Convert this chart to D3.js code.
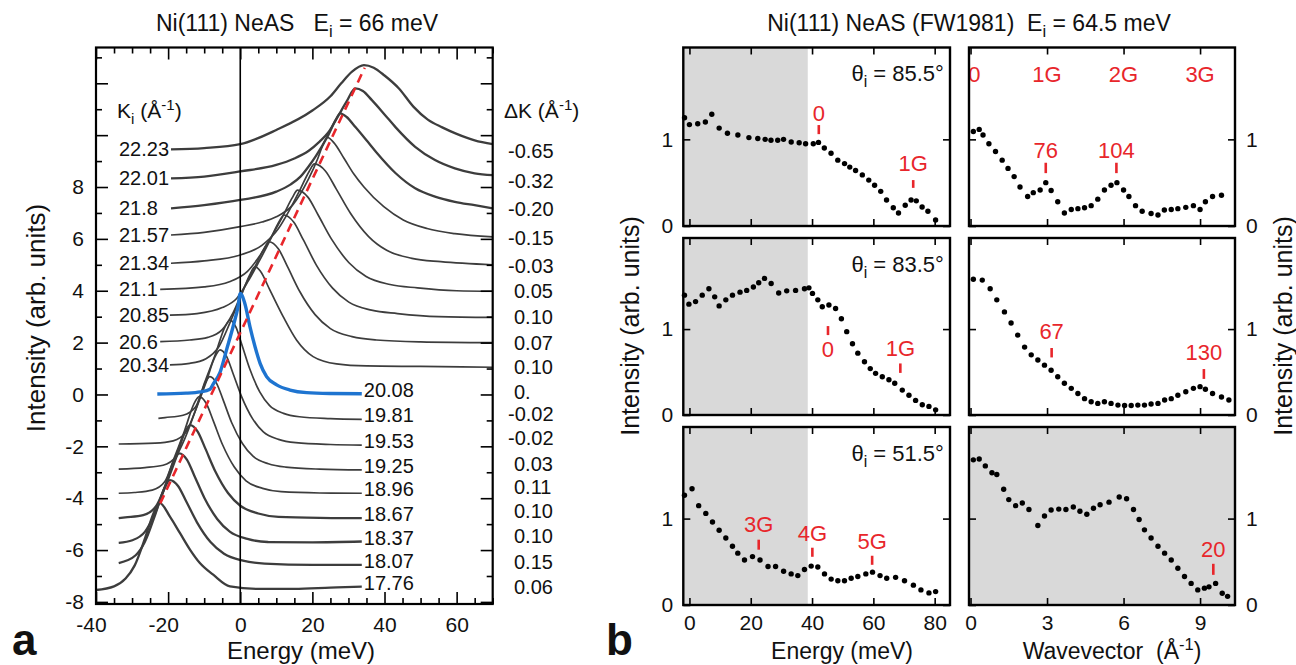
<!DOCTYPE html>
<html><head><meta charset="utf-8">
<script src="https://d3js.org/d3.v7.min.js"></script>
<style>
html,body{margin:0;padding:0;background:#fff;}
svg{display:block;}
text{font-family:"Liberation Sans",Arial,Helvetica,sans-serif;fill:#111;}
</style></head><body>
<svg id="chart" width="1296" height="665"></svg>
<script>
// ================= DATA : panel a =================
const kiLabels=["22.23","22.01","21.8","21.57","21.34","21.1","20.85","20.6","20.34","20.08","19.81","19.53","19.25","18.96","18.67","18.37","18.07","17.76"];
const deltaK=["-0.65","-0.32","-0.20","-0.15","-0.03","0.05","0.10","0.07","0.10","0.","-0.02","-0.02","0.03","0.11","0.10","0.10","0.15","0.06"];
// intensity level (same units as the curves) at which each ΔK value is printed
const deltaKLevel=[9.39,8.25,7.15,6.05,4.97,3.99,2.99,1.99,1.07,0.08,-0.74,-1.69,-2.68,-3.57,-4.5,-5.45,-6.45,-7.41];
// spectra [energy meV, intensity], one per Ki
const spectra=[
[[-19.2,9.45],[-10,9.5],[0,9.65],[10,10.2],[20,10.95],[25,11.5],[28,12.0],[31,12.45],[34.3,12.7],[37,12.6],[40,12.3],[44,11.8],[48,11.1],[52,10.6],[56,10.3],[60,10.05],[65,9.8],[70,9.65]],
[[-19.2,8.33],[-10,8.4],[0,8.6],[10,8.85],[15,9.1],[19,9.4],[22,9.75],[24.4,10.1],[27,10.7],[29.5,11.3],[31.9,11.8],[34,11.7],[36.5,11.35],[40,10.8],[43.1,10.3],[48.5,9.55],[54,9.04],[59.5,8.72],[65,8.53],[70,8.46]],
[[-19.2,7.18],[-10,7.3],[0,7.5],[10,7.82],[14,8.1],[16.7,8.4],[19,8.8],[21,9.2],[24.4,10.0],[26.5,10.6],[27.7,10.84],[29.5,10.7],[32,10.3],[35,9.8],[37.6,9.36],[43.1,8.53],[48.5,7.95],[54,7.63],[59.5,7.43],[65,7.3],[70,7.18]],
[[-19.2,6.15],[-10,6.25],[0,6.47],[6,6.65],[10,6.85],[14.5,7.3],[18.9,8.3],[21.5,9.1],[22.7,9.55],[24.2,9.91],[26,9.7],[28.8,9.1],[31.5,8.5],[34.3,8.0],[39.8,7.24],[45.2,6.73],[51.8,6.4],[59.5,6.2],[70,6.08]],
[[-19.2,5.06],[-10,5.15],[0,5.38],[6,5.75],[10.6,6.4],[13.6,7.1],[16.6,7.9],[19.1,8.6],[20.6,8.89],[23.6,8.62],[26.6,7.93],[30.6,6.98],[35.6,6.09],[40.6,5.56],[47.6,5.25],[55.6,5.12],[70,5.0]],
[[-22.2,4.05],[-10,4.15],[-3,4.35],[2,4.75],[5.9,5.45],[8.9,6.15],[11.9,6.9],[14.4,7.58],[15.9,7.88],[18.75,7.61],[21.6,6.92],[25.4,5.97],[30.15,5.08],[34.9,4.55],[41.55,4.24],[49.15,4.11],[60,4.0],[70,3.98]],
[[-19.5,3.06],[-12,3.12],[-5,3.35],[-1,3.7],[2.1,4.35],[5.1,5.1],[8.1,5.9],[10.6,6.62],[12.1,6.92],[14.8,6.65],[17.5,5.96],[21.1,4.99],[25.6,4.1],[30.1,3.56],[36.4,3.25],[43.6,3.12],[55,3.0],[70,2.97]],
[[-22.2,2.04],[-14,2.1],[-9,2.2],[-5,2.5],[-2,3.15],[1,4.1],[4,4.9],[6.5,5.6],[8.0,5.89],[10.55,5.62],[13.1,4.93],[16.5,3.97],[20.75,3.08],[25,2.54],[31,2.23],[37.75,2.1],[50,2.03],[70,2.0]],
[[-19.5,1.14],[-14,1.2],[-9.5,1.38],[-5.9,1.85],[-2.9,2.75],[0.1,3.75],[2.6,4.6],[4.1,4.93],[5.6,4.75],[8.2,4.03],[11.9,3.0],[15.6,2.1],[20.2,1.46],[26.7,1.18],[35,1.1],[50,1.08],[70,1.05]],
[[-23,0.02],[-15,0.05],[-11,0.1],[-8.4,0.2],[-7.5,0.4],[-5.6,0.85],[-3.8,1.72],[-2,2.61],[-0.6,3.4],[0,3.9],[1.25,3.52],[2.7,2.61],[4.1,1.84],[5.5,1.2],[7.3,0.69],[10.1,0.37],[13.8,0.17],[18.4,0.07],[24.8,0.04],[33.7,0.03]],
[[-22.7,-0.92],[-20.85,-0.89],[-15.85,-0.8],[-12.35,-0.47],[-9.85,0.47],[-6.85,1.57],[-4.35,2.57],[-2.85,2.87],[-1.2,2.6],[0.45,1.92],[2.65,0.98],[5.4,0.1],[8.15,-0.43],[12,-0.73],[16.4,-0.86],[25,-0.93],[33.7,-0.96]],
[[-33.7,-1.91],[-23.6,-1.88],[-18.6,-1.79],[-15.1,-1.46],[-12.6,-0.68],[-9.6,0.42],[-7.1,1.42],[-5.6,1.72],[-3.8,1.47],[-2.0,0.81],[0.4,-0.09],[3.4,-0.93],[6.4,-1.44],[10.6,-1.73],[15.4,-1.86],[25,-1.93],[33.7,-1.95]],
[[-33.7,-2.88],[-26.4,-2.82],[-21.4,-2.73],[-17.9,-2.4],[-15.4,-1.71],[-12.4,-0.61],[-9.9,0.39],[-8.4,0.69],[-6.6,0.44],[-4.8,-0.19],[-2.4,-1.08],[0.6,-1.89],[3.6,-2.39],[7.8,-2.67],[12.6,-2.8],[22,-2.88],[33.7,-2.91]],
[[-33.7,-3.81],[-29.4,-3.78],[-24.4,-3.69],[-20.9,-3.36],[-18.4,-2.48],[-15.4,-1.38],[-12.9,-0.38],[-11.4,-0.08],[-9.45,-0.34],[-7.5,-1.01],[-4.9,-1.94],[-1.65,-2.8],[1.6,-3.33],[6.2,-3.62],[11.35,-3.75],[22,-3.8],[33.7,-3.81]],
[[-33.7,-4.77],[-31.9,-4.74],[-26.9,-4.65],[-23.4,-4.32],[-20.9,-3.58],[-17.9,-2.48],[-15.4,-1.48],[-13.9,-1.18],[-11.8,-1.43],[-9.7,-2.08],[-6.9,-2.97],[-3.4,-3.8],[0.1,-4.3],[5.0,-4.59],[10.6,-4.72],[22,-4.76],[33.7,-4.77]],
[[-33.7,-5.72],[-29.9,-5.62],[-26.4,-5.29],[-23.9,-4.67],[-20.9,-3.57],[-18.4,-2.57],[-16.9,-2.27],[-14.8,-2.51],[-12.7,-3.14],[-9.9,-4.0],[-6.4,-4.8],[-2.9,-5.29],[2.0,-5.57],[7.6,-5.69],[20,-5.7],[33.7,-5.67]],
[[-33.7,-6.5],[-29,-6.2],[-26.5,-5.7],[-23.5,-4.6],[-21,-3.6],[-19.5,-3.3],[-17.25,-3.53],[-15,-4.12],[-12,-4.93],[-8.25,-5.69],[-4.5,-6.14],[0.75,-6.41],[6.75,-6.52],[20,-6.57],[33.7,-6.57]],
[[-40,-7.54],[-35,-7.4],[-31.8,-7.1],[-29.3,-6.6],[-26.3,-5.5],[-23.8,-4.5],[-22.3,-4.19],[-19.5,-4.71],[-16.7,-5.35],[-13.9,-5.99],[-11.2,-6.5],[-7.5,-6.95],[-2.85,-7.4],[5,-7.5],[15,-7.5],[25,-7.45],[33.7,-7.41]]
];
const dispersionLine=[[-22.2,-4.2],[34.5,12.6]];
const energyTicksA=[-40,-20,0,20,40,60];
const intensityTicksA=[-8,-6,-4,-2,0,2,4,6,8];

// ================= DATA : panel b =================
const dotsE855=[[-1.6,1.25],[0,1.17],[2.7,1.18],[5.2,1.2],[7.3,1.29],[9.7,1.13],[12.4,1.07],[15.8,1.05],[19.4,1.02],[22.3,1.01],[24.7,1.0],[26.6,0.99],[28.8,0.99],[30.7,1.0],[33.2,0.97],[35.8,0.96],[37.9,0.95],[40.4,0.95],[42.1,0.965],[44.0,0.9],[46.2,0.84],[48.4,0.76],[50.6,0.72],[52.3,0.68],[54.2,0.64],[56.4,0.59],[58.5,0.53],[60.4,0.47],[62.4,0.4],[64.3,0.3],[66.5,0.21],[68.2,0.15],[70.4,0.24],[72.3,0.3],[74.0,0.29],[75.9,0.22],[77.8,0.17],[80.3,0.07]];
const dotsK855=[[0.11,1.09],[0.34,1.115],[0.49,1.05],[0.72,0.95],[0.98,0.86],[1.24,0.76],[1.47,0.665],[1.71,0.57],[1.94,0.45],[2.24,0.34],[2.46,0.385],[2.73,0.415],[2.95,0.5],[3.16,0.41],[3.42,0.28],[3.68,0.15],[3.95,0.19],[4.21,0.2],[4.47,0.21],[4.73,0.235],[4.99,0.31],[5.25,0.415],[5.51,0.47],[5.74,0.5],[6.0,0.415],[6.21,0.34],[6.47,0.235],[6.73,0.17],[7.08,0.145],[7.35,0.127],[7.6,0.185],[7.87,0.19],[8.13,0.2],[8.44,0.215],[8.74,0.235],[9.0,0.19],[9.21,0.28],[9.49,0.34],[9.84,0.355]];
const dotsE835=[[-1.62,1.395],[-0.17,1.29],[2.0,1.32],[4.18,1.395],[6.35,1.47],[8.24,1.375],[9.69,1.27],[11.87,1.34],[14.04,1.395],[16.5,1.43],[18.68,1.45],[20.86,1.49],[22.6,1.54],[24.48,1.59],[26.66,1.53],[29.12,1.42],[31.73,1.445],[34.63,1.45],[37.53,1.47],[38.98,1.48],[40.14,1.415],[41.88,1.34],[43.33,1.26],[45.5,1.28],[47.68,1.24],[49.57,1.12],[51.31,0.97],[53.19,0.83],[54.93,0.72],[57.1,0.62],[58.99,0.54],[60.73,0.485],[62.91,0.445],[65.08,0.41],[66.97,0.37],[69.43,0.29],[71.61,0.23],[73.78,0.17],[75.96,0.12],[78.13,0.1],[80.31,0.06]];
const dotsK835=[[0.11,1.58],[0.46,1.57],[0.77,1.47],[1.03,1.34],[1.33,1.2],[1.59,1.07],[1.85,0.93],[2.12,0.79],[2.38,0.7],[2.64,0.64],[2.9,0.58],[3.16,0.52],[3.42,0.445],[3.68,0.37],[3.95,0.31],[4.21,0.25],[4.47,0.19],[4.73,0.155],[4.99,0.135],[5.25,0.155],[5.51,0.135],[5.78,0.115],[6.04,0.11],[6.3,0.11],[6.56,0.115],[6.82,0.115],[7.08,0.128],[7.35,0.135],[7.61,0.175],[7.87,0.19],[8.13,0.23],[8.44,0.27],[8.74,0.31],[9.0,0.33],[9.21,0.3],[9.49,0.25],[9.84,0.21],[10.13,0.175]];
const dotsE515=[[-1.62,1.27],[0.85,1.345],[3.02,1.15],[5.34,1.06],[7.52,0.96],[9.69,0.865],[11.87,0.775],[14.04,0.68],[15.78,0.6],[17.96,0.52],[20.57,0.56],[23.03,0.52],[25.64,0.445],[28.1,0.445],[30.72,0.39],[33.18,0.36],[35.36,0.34],[37.53,0.41],[39.71,0.45],[41.88,0.44],[44.06,0.36],[46.23,0.3],[48.41,0.28],[50.58,0.28],[52.76,0.31],[54.93,0.33],[57.54,0.36],[59.72,0.38],[62.18,0.34],[64.36,0.31],[67.26,0.32],[70.16,0.28],[73.06,0.23],[75.52,0.175],[78.13,0.14],[80.31,0.155]];
const dotsK515=[[0.11,1.68],[0.34,1.69],[0.58,1.61],[0.84,1.53],[1.03,1.51],[1.3,1.34],[1.5,1.22],[1.77,1.15],[2.03,1.18],[2.29,1.105],[2.64,0.92],[2.9,1.03],[3.16,1.1],[3.46,1.11],[3.74,1.105],[4.03,1.135],[4.29,1.085],[4.56,1.05],[4.82,1.12],[5.08,1.16],[5.43,1.19],[5.83,1.25],[6.12,1.23],[6.39,1.105],[6.61,0.99],[6.82,0.87],[7.08,0.775],[7.35,0.68],[7.61,0.6],[7.87,0.52],[8.13,0.425],[8.39,0.33],[8.65,0.25],[8.91,0.175],[9.17,0.195],[9.35,0.21],[9.61,0.25],[9.87,0.136],[10.08,0.1]];
const thetaLabels=["85.5°","83.5°","51.5°"];
const energyTicksB=[0,20,40,60,80];
const waveTicksB=[0,3,6,9];
const intensityTicksB=[0,1];
const shadeEnergyMax=38.6;
const reciprocalOrders=["0","1G","2G","3G"];
const reciprocalOrderK=[0.15,3,6,9];
// markers: label, x (energy or wavevector), label level, tick from/to (intensity)
const annE855=[["0",42.2,1.21,1.165,1.06],["1G",73,0.64,0.53,0.44]];
const annK855=[["76",2.95,0.79,0.73,0.61],["104",5.72,0.79,0.73,0.61]];
const annE835=[["0",45.2,0.68,1.035,0.93],["1G",68.8,0.69,0.6,0.49]];
const annK835=[["67",3.18,0.89,0.78,0.67],["130",9.15,0.64,0.535,0.42]];
const annE515=[["3G",22.6,0.85,0.756,0.64],["4G",40.1,0.735,0.663,0.558],["5G",59.6,0.648,0.57,0.465]];
const annK515=[["20",9.52,0.56,0.477,0.349]];

// ================= DRAWING =================
const svg=d3.select("#chart");
svg.append("rect").attr("width",1296).attr("height",665).attr("fill","#fff");
const RED="#e8262b", BLUE="#1e74d0", CURVE="#3d3d3d", FF='"Liberation Sans", Arial, sans-serif';

function rich(parent,x,y,segs,size,anchor,extra){
  const t=parent.append("text").attr("x",x).attr("y",y).attr("font-size",size)
    .attr("text-anchor",anchor||"start");
  if(extra) extra(t);
  let shift=0;
  segs.forEach(s=>{
    const target=s.sub?size*0.28:(s.sup?-size*0.38:0);
    const ts=t.append("tspan").text(s.t).attr("dy",target-shift);
    if(s.sub||s.sup) ts.attr("font-size",size*0.72);
    shift=target;
  });
  return t;
}
function styleAxis(g,size){
  g.select(".domain").remove();
  g.attr("font-family",FF).attr("font-size",size);
  g.selectAll("line").attr("stroke","#000").attr("stroke-width",1.6);
  g.selectAll("text").attr("fill","#111");
  return g;
}

// ---------- panel a ----------
const xL=d3.scaleLinear().domain([-40,70]).range([96,492.7]);
const yL=d3.scaleLinear().domain([-8.08,13.38]).range([604,47.5]);
const gA=svg.append("g");
const lineA=d3.line().x(d=>xL(d[0])).y(d=>yL(d[1])).curve(d3.curveMonotoneX);
spectra.forEach((s,i)=>{
  if(i===9) return;
  gA.append("path").attr("d",lineA(s)).attr("fill","none").attr("stroke",CURVE)
    .attr("stroke-width",(i<3||i>13)?2.3:1.7).attr("stroke-linejoin","round");
});
gA.append("line").attr("x1",xL(0)).attr("x2",xL(0)).attr("y1",yL.range()[0]).attr("y2",yL.range()[1])
  .attr("stroke","#000").attr("stroke-width",1.6);
gA.append("path").attr("d",lineA(spectra[9])).attr("fill","none").attr("stroke",BLUE).attr("stroke-width",3.4);
gA.append("line").attr("x1",xL(dispersionLine[0][0])).attr("y1",yL(dispersionLine[0][1]))
  .attr("x2",xL(dispersionLine[1][0])).attr("y2",yL(dispersionLine[1][1]))
  .attr("stroke",RED).attr("stroke-width",2.6).attr("stroke-dasharray","9,6");
// frame
gA.append("rect").attr("x",xL.range()[0]).attr("y",yL.range()[1])
  .attr("width",xL.range()[1]-xL.range()[0]).attr("height",yL.range()[0]-yL.range()[1])
  .attr("fill","none").attr("stroke","#000").attr("stroke-width",2.2);
// axes
const minorXA=d3.range(-40,71,5).filter(v=>!energyTicksA.includes(v));
const yAllA=d3.range(-8,14,1);
const minorYA=yAllA.filter(v=>v%2!==0), majorYA=yAllA.filter(v=>v%2===0);
const bA=yL.range()[0], tA=yL.range()[1], lA=xL.range()[0], rA=xL.range()[1];
styleAxis(gA.append("g").attr("transform",`translate(0,${bA})`).call(d3.axisBottom(xL).tickValues(minorXA).tickSize(-6).tickFormat("")),21);
styleAxis(gA.append("g").attr("transform",`translate(0,${bA})`).call(d3.axisBottom(xL).tickValues(energyTicksA).tickSize(-12).tickPadding(13).tickFormat(d=>String(d))),21)
  .selectAll("text").attr("dx",d=>d<0?-5:0);
styleAxis(gA.append("g").attr("transform",`translate(0,${tA})`).call(d3.axisTop(xL).tickValues(minorXA).tickSize(-6).tickFormat("")),21);
styleAxis(gA.append("g").attr("transform",`translate(0,${tA})`).call(d3.axisTop(xL).tickValues(energyTicksA).tickSize(-12).tickFormat("")),21);
styleAxis(gA.append("g").attr("transform",`translate(${lA},0)`).call(d3.axisLeft(yL).tickValues(minorYA).tickSize(-6).tickFormat("")),21);
styleAxis(gA.append("g").attr("transform",`translate(${lA},0)`).call(d3.axisLeft(yL).tickValues(majorYA).tickSize(-12).tickPadding(12)
  .tickFormat(d=>intensityTicksA.includes(d)?String(d):"")),21);
styleAxis(gA.append("g").attr("transform",`translate(${rA},0)`).call(d3.axisRight(yL).tickValues(minorYA).tickSize(-6).tickFormat("")),21);
styleAxis(gA.append("g").attr("transform",`translate(${rA},0)`).call(d3.axisRight(yL).tickValues(majorYA).tickSize(-12).tickFormat("")),21);
// Ki labels
spectra.forEach((s,i)=>{
  if(i<9){
    gA.append("text").attr("x",119).attr("y",yL(s[0][1])).attr("dy","0.35em").attr("font-size",20).text(kiLabels[i]);
  } else {
    const last=s[s.length-1];
    gA.append("text").attr("x",xL(last[0])+2).attr("y",yL(last[1])-4).attr("dy","0.35em").attr("font-size",20).text(kiLabels[i]);
  }
});
deltaK.forEach((d,i)=>{
  gA.append("text").attr("x",d.startsWith("-")?508:514).attr("y",yL(deltaKLevel[i])).attr("dy","0.35em")
    .attr("font-size",20).text(d);
});
rich(gA,117,118,[{t:"K"},{t:"i",sub:true},{t:"\u00a0(Å"},{t:"-1",sup:true},{t:")"}],21,"start");
rich(gA,504,118,[{t:"ΔK\u00a0(Å"},{t:"-1",sup:true},{t:")"}],21,"start");
rich(gA,297,31,[{t:"Ni(111) NeAS\u00a0\u00a0\u00a0E"},{t:"i",sub:true},{t:"\u00a0= 66 meV"}],23,"middle");
gA.append("text").attr("transform","translate(45,318) rotate(-90)").attr("text-anchor","middle").attr("font-size",26).text("Intensity (arb. units)");
gA.append("text").attr("x",301).attr("y",659).attr("text-anchor","middle").attr("font-size",24).text("Energy (meV)");
gA.append("text").attr("x",12).attr("y",655).attr("font-size",44).attr("font-weight","bold").text("a");

// ---------- panel b ----------
const gB=svg.append("g");
const colsB=[{range:[683.3,950],domain:[-2,85],ticks:energyTicksB},{range:[969,1235],domain:[-0.06,10.37],ticks:waveTicksB}];
const rowsB=[[47.5,226],[238,415],[427,605]];
const panelsB=[
  {r:0,c:0,dots:dotsE855,shade:[-2,shadeEnergyMax],theta:thetaLabels[0],ann:annE855},
  {r:0,c:1,dots:dotsK855,shade:null,ann:annK855,orders:true},
  {r:1,c:0,dots:dotsE835,shade:[-2,shadeEnergyMax],theta:thetaLabels[1],ann:annE835},
  {r:1,c:1,dots:dotsK835,shade:null,ann:annK835},
  {r:2,c:0,dots:dotsE515,shade:[-2,shadeEnergyMax],theta:thetaLabels[2],ann:annE515},
  {r:2,c:1,dots:dotsK515,shade:[-0.06,10.37],ann:annK515}
];
panelsB.forEach(p=>{
  const col=colsB[p.c], row=rowsB[p.r];
  const x=d3.scaleLinear().domain(col.domain).range(col.range);
  const y=d3.scaleLinear().domain([0,2.06]).range([row[1],row[0]]);
  const g=gB.append("g");
  if(p.shade){
    g.append("rect").attr("x",x(p.shade[0])).attr("y",row[0]).attr("width",x(p.shade[1])-x(p.shade[0]))
      .attr("height",row[1]-row[0]).attr("fill","#d9d9d9");
  }
  g.selectAll("circle").data(p.dots).join("circle").attr("cx",d=>x(d[0])).attr("cy",d=>y(d[1])).attr("r",2.7).attr("fill","#000");
  // annotations
  p.ann.forEach(a=>{
    g.append("text").attr("x",x(a[1])).attr("y",y(a[2])).attr("text-anchor","middle").attr("font-size",22).style("fill",RED).text(a[0]);
    g.append("line").attr("x1",x(a[1])).attr("x2",x(a[1])).attr("y1",y(a[3])).attr("y2",y(a[4])).attr("stroke",RED).attr("stroke-width",2.6);
  });
  if(p.orders){
    reciprocalOrders.forEach((o,i)=>{
      g.append("text").attr("x",x(reciprocalOrderK[i])).attr("y",y(1.66)).attr("text-anchor","middle").attr("font-size",22).style("fill",RED).text(o);
    });
  }
  if(p.theta){
    rich(g,x(83),y(1.67),[{t:"θ"},{t:"i",sub:true},{t:"\u00a0= "+p.theta}],22,"end");
  }
  // frame
  g.append("rect").attr("x",col.range[0]).attr("y",row[0]).attr("width",col.range[1]-col.range[0]).attr("height",row[1]-row[0])
    .attr("fill","none").attr("stroke","#000").attr("stroke-width",2.4);
  // x ticks
  const bx=d3.axisBottom(x).tickValues(col.ticks).tickSize(-7).tickPadding(10).tickFormat(d=>String(d));
  if(p.r!==2) bx.tickFormat("");
  styleAxis(g.append("g").attr("transform",`translate(0,${row[1]})`).call(bx),21);
  styleAxis(g.append("g").attr("transform",`translate(0,${row[0]})`).call(d3.axisTop(x).tickValues(col.ticks).tickSize(-7).tickFormat("")),21);
  // y ticks
  const yl=d3.axisLeft(y).tickValues(intensityTicksB).tickSize(-7).tickPadding(10).tickFormat(d=>String(d));
  const yr=d3.axisRight(y).tickValues(intensityTicksB).tickSize(-7).tickPadding(11).tickFormat(d=>String(d));
  if(p.c===0) yr.tickFormat(""); else yl.tickFormat("");
  styleAxis(g.append("g").attr("transform",`translate(${col.range[0]},0)`).call(yl),21);
  styleAxis(g.append("g").attr("transform",`translate(${col.range[1]},0)`).call(yr),21);
});
rich(gB,969,31,[{t:"Ni(111) NeAS (FW1981)\u00a0\u00a0E"},{t:"i",sub:true},{t:"\u00a0= 64.5 meV"}],23,"middle");
gB.append("text").attr("transform","translate(639,326) rotate(-90)").attr("text-anchor","middle").attr("font-size",25).text("Intensity (arb. units)");
gB.append("text").attr("transform","translate(1292,326) rotate(-90)").attr("text-anchor","middle").attr("font-size",25).text("Intensity (arb. units)");
gB.append("text").attr("x",842).attr("y",659).attr("text-anchor","middle").attr("font-size",23).text("Energy (meV)");
rich(gB,1112,659,[{t:"Wavevector\u00a0\u00a0(Å"},{t:"-1",sup:true},{t:")"}],23,"middle");
gB.append("text").attr("x",606).attr("y",655).attr("font-size",44).attr("font-weight","bold").text("b");
</script></body></html>
